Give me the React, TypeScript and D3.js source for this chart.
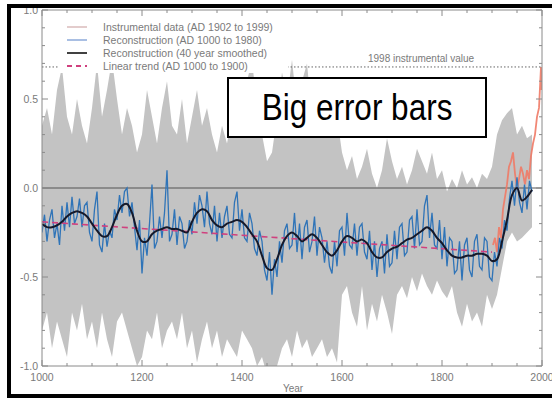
import React from "react";
import * as d3 from "d3";

// ---- data ----
const bandYears = d3.range(1000, 1981, 10);
const bandUpper = [
  0.35, 0.45, 0.30, 0.55, 0.68, 0.40, 0.30, 0.50, 0.35, 0.25,
  0.45, 0.70, 0.40, 0.55, 0.72, 0.50, 0.30, 0.45, 0.35, 0.20,
  0.30, 0.55, 0.40, 0.25, 0.45, 0.60, 0.35, 0.30, 0.50, 0.25,
  0.40, 0.55, 0.35, 0.45, 0.30, 0.20, 0.35, 0.25, 0.40, 0.55,
  0.35, 0.60, 0.72, 0.45, 0.30, 0.15, 0.20, 0.40, 0.65, 0.50,
  0.72, 0.45, 0.60, 0.70, 0.40, 0.55, 0.35, 0.50, 0.30, 0.40,
  0.20, 0.10, 0.18, 0.05, 0.12, 0.22, 0.08, 0.00, 0.10, 0.28,
  0.15, 0.05, 0.12, 0.02, 0.10, 0.22, 0.15, 0.08, 0.20, 0.05,
  0.10, -0.02, 0.05, 0.00, 0.10, 0.02, 0.06, 0.00, 0.08, 0.05,
  0.12, 0.30, 0.38, 0.42, 0.45, 0.30, 0.35, 0.28, 0.30,
];
const bandLower = [
  -0.80, -0.70, -0.90, -0.75, -0.85, -0.95, -0.70, -0.80, -0.65, -0.85,
  -0.75, -0.90, -0.70, -0.85, -0.95, -0.75, -0.70, -0.80, -0.90, -1.00,
  -0.95, -0.80, -0.85, -0.70, -0.90, -0.80, -0.75, -0.85, -0.70, -0.90,
  -0.80, -0.98, -0.85, -0.75, -0.90, -0.80, -0.95, -0.85, -0.90, -0.95,
  -0.80, -0.85, -0.90, -1.00, -0.95, -1.05, -1.05, -1.00, -0.90, -0.85,
  -0.95, -0.80, -0.90, -0.85, -0.95, -0.90, -0.85, -0.95, -0.90, -0.98,
  -0.60, -0.55, -0.70, -0.78, -0.55, -0.80, -0.65, -0.75, -0.60, -0.70,
  -0.82, -0.60, -0.55, -0.62, -0.50, -0.58, -0.48, -0.55, -0.60, -0.52,
  -0.58, -0.62, -0.55, -0.70, -0.78, -0.65, -0.75, -0.70, -0.78, -0.60,
  -0.68, -0.60, -0.45, -0.30, -0.25, -0.30, -0.28, -0.25, -0.22,
];

const reconYears = d3.range(1000, 1981, 5);
const reconValues = [
  -0.25, -0.15, -0.30, -0.18, -0.12, -0.28, -0.20, -0.32, -0.10, -0.24,
  -0.08, -0.22, -0.05, -0.20, -0.16, -0.06, -0.22, -0.10, -0.08, -0.25,
  -0.30, -0.12, -0.02, -0.32, -0.36, -0.20, -0.33, -0.24, -0.28, -0.12,
  -0.18, -0.04, -0.14, -0.02, 0.00, -0.16, -0.08, -0.22, -0.35, -0.18,
  -0.48, -0.28, -0.38, -0.20, 0.02, -0.34, -0.30, -0.16, -0.28, -0.14,
  0.10, -0.30, -0.26, -0.12, -0.32, -0.16, -0.20, -0.34, -0.30, -0.18,
  -0.26, -0.08, -0.20, -0.04, -0.10, -0.22, -0.02, -0.20, -0.26, -0.10,
  -0.30, -0.14, -0.28, -0.16, -0.10, -0.26, -0.28, -0.08, -0.02, -0.24,
  -0.12, -0.28, -0.30, -0.14, -0.20, -0.34, -0.38, -0.24, -0.30, -0.46,
  -0.52, -0.36, -0.60, -0.40, -0.50, -0.30, -0.42, -0.24, -0.20, -0.34,
  -0.32, -0.14, -0.36, -0.20, -0.40, -0.22, -0.18, -0.36, -0.30, -0.16,
  -0.38, -0.22, -0.28, -0.42, -0.30, -0.44, -0.48, -0.30, -0.44, -0.24,
  -0.22, -0.38, -0.14, -0.32, -0.34, -0.20, -0.38, -0.22, -0.20, -0.36,
  -0.40, -0.24, -0.46, -0.30, -0.50, -0.34, -0.30, -0.48, -0.26, -0.44,
  -0.42, -0.24, -0.40, -0.22, -0.20, -0.38, -0.36, -0.18, -0.16, -0.34,
  -0.12, -0.32, -0.30, -0.10, -0.04, -0.28, -0.14, -0.32, -0.34, -0.18,
  -0.40, -0.22, -0.44, -0.28, -0.30, -0.48, -0.46, -0.30, -0.52, -0.32,
  -0.28, -0.46, -0.50, -0.30, -0.26, -0.44, -0.46, -0.28, -0.30, -0.50,
  -0.52, -0.36, -0.44, -0.28, -0.34, -0.18, -0.24, -0.06, 0.04, -0.10,
  0.06, -0.08, -0.14, 0.02, -0.12, 0.04, -0.02,
];

const smoothYears = d3.range(1000, 1981, 10);
const smoothValues = [
  -0.20, -0.22, -0.22, -0.21, -0.19, -0.16, -0.14, -0.13, -0.14, -0.16,
  -0.20, -0.24, -0.27, -0.27, -0.22, -0.15, -0.10, -0.09, -0.14, -0.24,
  -0.30, -0.30, -0.26, -0.24, -0.23, -0.22, -0.23, -0.23, -0.24, -0.25,
  -0.19, -0.14, -0.12, -0.13, -0.18, -0.21, -0.22, -0.20, -0.19, -0.18,
  -0.19, -0.22, -0.26, -0.30, -0.38, -0.45, -0.46, -0.40, -0.32, -0.27,
  -0.25, -0.27, -0.30, -0.28, -0.26, -0.28, -0.32, -0.36, -0.38, -0.35,
  -0.30, -0.27, -0.28, -0.30, -0.29, -0.31, -0.36, -0.39, -0.39, -0.36,
  -0.34, -0.33, -0.31, -0.29, -0.28, -0.26, -0.24, -0.22, -0.24, -0.28,
  -0.31, -0.35, -0.38, -0.39, -0.39, -0.38, -0.38, -0.37, -0.37, -0.38,
  -0.41, -0.40, -0.30, -0.18, -0.04, 0.00, -0.07, -0.05, -0.01,
];

const instrYears = [1902, 1906, 1910, 1914, 1918, 1922, 1926, 1930, 1934, 1938, 1942, 1946, 1950, 1954, 1958, 1962, 1966, 1970, 1974, 1978, 1982, 1986, 1990, 1994, 1998, 1999];
const instrValues = [-0.32, -0.28, -0.36, -0.22, -0.28, -0.12, -0.05, 0.02, 0.12, 0.15, 0.20, 0.08, 0.00, 0.05, 0.12, 0.08, 0.02, 0.10, 0.05, 0.18, 0.25, 0.30, 0.40, 0.45, 0.68, 0.55];

const trendYears = [1000, 1900];
const trendValues = [-0.19, -0.36];

const value1998 = 0.68;

const xTickLabels = ["1000", "1200", "1400", "1600", "1800", "2000"];
const yTickLabels = ["1.0", "0.5", "0.0", "-0.5", "-1.0"];

const legendLabels = [
  "Instrumental data (AD 1902 to 1999)",
  "Reconstruction (AD 1000 to 1980)",
  "Reconstruction (40 year smoothed)",
  "Linear trend (AD 1000 to 1900)",
];

export default function App() {
  const W = 552, H = 398;
  const x = d3.scaleLinear().domain([1000, 2000]).range([42, 542]);
  const y = d3.scaleLinear().domain([-1, 1]).range([366, 10]);
  const font = "'Liberation Sans', Arial, sans-serif";
  const axisColor = "#8a8a8a";
  const textColor = "#7a7a7a";

  const band = d3
    .area<number>()
    .x((_, i) => x(bandYears[i]))
    .y0((_, i) => y(bandLower[i]))
    .y1((d) => y(d));
  const reconLine = d3
    .line<number>()
    .x((_, i) => x(reconYears[i]))
    .y((d) => y(d));
  const smoothLine = d3
    .line<number>()
    .x((_, i) => x(smoothYears[i]))
    .y((d) => y(d))
    .curve(d3.curveCatmullRom);
  const instrLine = d3
    .line<number>()
    .x((_, i) => x(instrYears[i]))
    .y((d) => y(d));
  const trendLine = d3
    .line<number>()
    .x((_, i) => x(trendYears[i]))
    .y((d) => y(d));

  const xMinor = d3.range(1000, 2001, 50);
  const xMajor = d3.range(1000, 2001, 200);
  const yMinor = d3.range(-10, 11).map((v) => v / 10);
  const yMajor = [1, 0.5, 0, -0.5, -1];

  const legendColors = ["#e3cccc", "#a9bfe3", "#111111", "#d0407e"];

  return (
    <svg
      width={W}
      height={H}
      style={{ position: "absolute", left: 0, top: 0, background: "#fff" }}
      fontFamily={font}
    >
      <defs>
        <clipPath id="plot">
          <rect x={42} y={10} width={500} height={356} />
        </clipPath>
      </defs>
      <g clipPath="url(#plot)">
        <path d={band(bandUpper) || ""} fill="#c3c3c3" />
        <line x1={x(1000)} x2={x(2000)} y1={y(0)} y2={y(0)} stroke="#555" strokeWidth={1.2} />
        <path d={instrLine(instrValues) || ""} fill="none" stroke="#ef7a66" strokeWidth={1.8} opacity={0.9} />
        <path d={reconLine(reconValues) || ""} fill="none" stroke="#2f74b8" strokeWidth={1.3} />
        <path d={trendLine(trendValues) || ""} fill="none" stroke="#d0407e" strokeWidth={1.6} strokeDasharray="6,4" />
        <path d={smoothLine(smoothValues) || ""} fill="none" stroke="#15192a" strokeWidth={2} />
        <line x1={x(1000)} x2={x(2000)} y1={y(value1998)} y2={y(value1998)} stroke="#666" strokeWidth={1} strokeDasharray="1.5,2" />
      </g>

      {/* legend */}
      <rect x={58} y={17} width={230} height={56} fill="#fff" />
      {legendLabels.map((t, i) => {
        const cy = 27 + i * 13;
        return (
          <g key={t}>
            <line
              x1={67}
              x2={87}
              y1={cy}
              y2={cy}
              stroke={legendColors[i]}
              strokeWidth={i === 2 ? 1.6 : 2}
              strokeDasharray={i === 3 ? "5,4" : undefined}
            />
            <text x={103} y={cy + 3.8} fontSize={10.5} fill={textColor}>
              {t}
            </text>
          </g>
        );
      })}
      <text x={368} y={62} fontSize={10} fill={textColor}>
        1998 instrumental value
      </text>

      {/* axes */}
      <g stroke={axisColor} strokeWidth={1}>
        <line x1={42} x2={42} y1={10} y2={366} />
        <line x1={542} x2={542} y1={10} y2={366} />
        <line x1={42} x2={542} y1={366} y2={366} />
        <line x1={42} x2={542} y1={10} y2={10} />
        {xMinor.map((v) => {
          const len = v % 200 === 0 ? 6 : 3;
          return (
            <g key={"xm" + v}>
              <line x1={x(v)} x2={x(v)} y1={366} y2={366 - len} />
              <line x1={x(v)} x2={x(v)} y1={10} y2={10 + len} />
            </g>
          );
        })}
        {yMinor.map((v) => {
          const len = Math.round(v * 10) % 5 === 0 ? 6 : 3;
          return (
            <g key={"ym" + v}>
              <line x1={42} x2={42 + len} y1={y(v)} y2={y(v)} />
              <line x1={542} x2={542 - len} y1={y(v)} y2={y(v)} />
            </g>
          );
        })}
      </g>
      {xMajor.map((v, i) => (
        <text key={"xl" + v} x={x(v)} y={381} fontSize={10.5} fill={textColor} textAnchor="middle">
          {xTickLabels[i]}
        </text>
      ))}
      {yMajor.map((v, i) => (
        <text key={"yl" + v} x={38} y={y(v) + 4} fontSize={10.5} fill={textColor} textAnchor="end">
          {yTickLabels[i]}
        </text>
      ))}
      <text x={293} y={392} fontSize={10} fill={textColor} textAnchor="middle">
        Year
      </text>

      {/* annotation box */}
      <rect x={228} y={78} width={258} height={59} fill="#fff" stroke="#000" strokeWidth={2} />
      <text
        x={0}
        y={0}
        fontSize={31.5}
        fill="#000"
        textAnchor="middle"
        transform="translate(357,120) scale(1,1.2)"
      >
        Big error bars
      </text>

      {/* outer frame */}
      <rect x={9} y={6} width={560} height={390} fill="none" stroke="#000" strokeWidth={4} />
    </svg>
  );
}
